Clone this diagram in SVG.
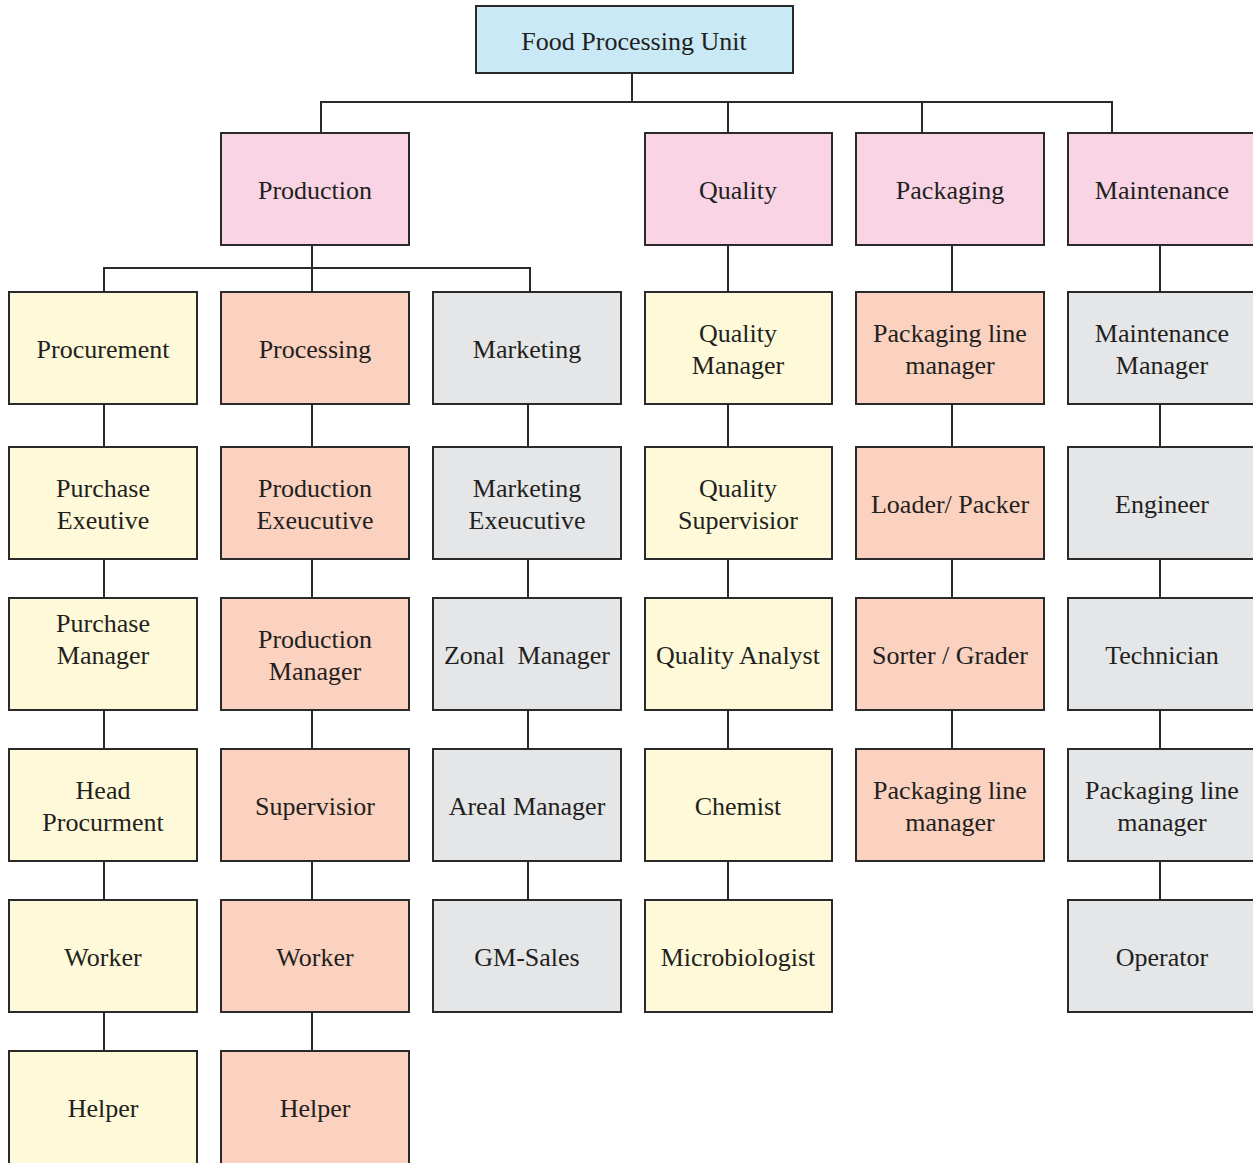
<svg xmlns="http://www.w3.org/2000/svg" width="1253" height="1163" viewBox="0 0 1253 1163">
<style>
rect{stroke:#2b2a2a;stroke-width:2}
.b{fill:#c9e9f7}.p{fill:#f8d4e4}.y{fill:#fef9d8}.s{fill:#fbd1bf}.g{fill:#e5e6e8}
text{font-family:"Liberation Serif","Times New Roman",serif;font-size:26px;fill:#231f20;text-anchor:middle}
#connectors line{stroke:#2b2a2a;stroke-width:2;fill:none}
</style>
<rect width="1253" height="1163" fill="#fff" style="stroke:none"/>
<g id="connectors">
<line x1="632" y1="73" x2="632" y2="102"/>
<line x1="320" y1="102" x2="1113" y2="102"/>
<line x1="321" y1="102" x2="321" y2="133"/>
<line x1="728" y1="102" x2="728" y2="133"/>
<line x1="922" y1="102" x2="922" y2="133"/>
<line x1="1112" y1="102" x2="1112" y2="133"/>
<line x1="312" y1="246" x2="312" y2="292"/>
<line x1="103" y1="268" x2="531" y2="268"/>
<line x1="104" y1="268" x2="104" y2="292"/>
<line x1="530" y1="268" x2="530" y2="292"/>
<line x1="728" y1="246" x2="728" y2="292"/>
<line x1="952" y1="246" x2="952" y2="292"/>
<line x1="1160" y1="246" x2="1160" y2="292"/>
<path d="M104 404V447M104 559V598M104 710V749M104 861V900M104 1012V1051M312 404V447M312 559V598M312 710V749M312 861V900M312 1012V1051M528 404V447M528 559V598M528 710V749M528 861V900M728 404V447M728 559V598M728 710V749M728 861V900M952 404V447M952 559V598M952 710V749M1160 404V447M1160 559V598M1160 710V749M1160 861V900" stroke="#2b2a2a" stroke-width="2" fill="none"/>
</g>
<g id="n-root"><rect class="b" x="476" y="6" width="317" height="67"/><text x="634" y="50">Food Processing Unit</text></g>
<g id="n-production"><rect class="p" x="221" y="133" width="188" height="112"/><text x="315" y="199">Production</text></g>
<g id="n-quality"><rect class="p" x="645" y="133" width="187" height="112"/><text x="738" y="199">Quality</text></g>
<g id="n-packaging"><rect class="p" x="856" y="133" width="188" height="112"/><text x="950" y="199">Packaging</text></g>
<g id="n-maintenance"><rect class="p" x="1068" y="133" width="188" height="112"/><text x="1162" y="199">Maintenance</text></g>

<g id="n-procurement"><rect class="y" x="9" y="292" width="188" height="112"/><text x="103" y="358">Procurement</text></g>
<g id="n-purchase-exec"><rect class="y" x="9" y="447" width="188" height="112"/><text x="103" y="497">Purchase</text><text x="103" y="529">Exeutive</text></g>
<g id="n-purchase-mgr"><rect class="y" x="9" y="598" width="188" height="112"/><text x="103" y="632">Purchase</text><text x="103" y="664">Manager</text></g>
<g id="n-head-proc"><rect class="y" x="9" y="749" width="188" height="112"/><text x="103" y="799">Head</text><text x="103" y="831">Procurment</text></g>
<g id="n-worker1"><rect class="y" x="9" y="900" width="188" height="112"/><text x="103" y="966">Worker</text></g>
<g id="n-helper1"><rect class="y" x="9" y="1051" width="188" height="120"/><text x="103" y="1117">Helper</text></g>

<g id="n-processing"><rect class="s" x="221" y="292" width="188" height="112"/><text x="315" y="358">Processing</text></g>
<g id="n-prod-exec"><rect class="s" x="221" y="447" width="188" height="112"/><text x="315" y="497">Production</text><text x="315" y="529">Exeucutive</text></g>
<g id="n-prod-mgr"><rect class="s" x="221" y="598" width="188" height="112"/><text x="315" y="648">Production</text><text x="315" y="680">Manager</text></g>
<g id="n-supervisior"><rect class="s" x="221" y="749" width="188" height="112"/><text x="315" y="815">Supervisior</text></g>
<g id="n-worker2"><rect class="s" x="221" y="900" width="188" height="112"/><text x="315" y="966">Worker</text></g>
<g id="n-helper2"><rect class="s" x="221" y="1051" width="188" height="120"/><text x="315" y="1117">Helper</text></g>

<g id="n-marketing"><rect class="g" x="433" y="292" width="188" height="112"/><text x="527" y="358">Marketing</text></g>
<g id="n-mkt-exec"><rect class="g" x="433" y="447" width="188" height="112"/><text x="527" y="497">Marketing</text><text x="527" y="529">Exeucutive</text></g>
<g id="n-zonal"><rect class="g" x="433" y="598" width="188" height="112"/><text x="527" y="664" xml:space="preserve">Zonal  Manager</text></g>
<g id="n-areal"><rect class="g" x="433" y="749" width="188" height="112"/><text x="527" y="815">Areal Manager</text></g>
<g id="n-gm"><rect class="g" x="433" y="900" width="188" height="112"/><text x="527" y="966">GM-Sales</text></g>

<g id="n-quality-mgr"><rect class="y" x="645" y="292" width="187" height="112"/><text x="738" y="342">Quality</text><text x="738" y="374">Manager</text></g>
<g id="n-quality-sup"><rect class="y" x="645" y="447" width="187" height="112"/><text x="738" y="497">Quality</text><text x="738" y="529">Supervisior</text></g>
<g id="n-quality-analyst"><rect class="y" x="645" y="598" width="187" height="112"/><text x="738" y="664">Quality Analyst</text></g>
<g id="n-chemist"><rect class="y" x="645" y="749" width="187" height="112"/><text x="738" y="815">Chemist</text></g>
<g id="n-micro"><rect class="y" x="645" y="900" width="187" height="112"/><text x="738" y="966">Microbiologist</text></g>

<g id="n-pack-line-mgr"><rect class="s" x="856" y="292" width="188" height="112"/><text x="950" y="342">Packaging line</text><text x="950" y="374">manager</text></g>
<g id="n-loader"><rect class="s" x="856" y="447" width="188" height="112"/><text x="950" y="513">Loader/ Packer</text></g>
<g id="n-sorter"><rect class="s" x="856" y="598" width="188" height="112"/><text x="950" y="664">Sorter / Grader</text></g>
<g id="n-pack-line-mgr2"><rect class="s" x="856" y="749" width="188" height="112"/><text x="950" y="799">Packaging line</text><text x="950" y="831">manager</text></g>

<g id="n-maint-mgr"><rect class="g" x="1068" y="292" width="188" height="112"/><text x="1162" y="342">Maintenance</text><text x="1162" y="374">Manager</text></g>
<g id="n-engineer"><rect class="g" x="1068" y="447" width="188" height="112"/><text x="1162" y="513">Engineer</text></g>
<g id="n-technician"><rect class="g" x="1068" y="598" width="188" height="112"/><text x="1162" y="664">Technician</text></g>
<g id="n-pack-line-mgr3"><rect class="g" x="1068" y="749" width="188" height="112"/><text x="1162" y="799">Packaging line</text><text x="1162" y="831">manager</text></g>
<g id="n-operator"><rect class="g" x="1068" y="900" width="188" height="112"/><text x="1162" y="966">Operator</text></g>
</svg>
